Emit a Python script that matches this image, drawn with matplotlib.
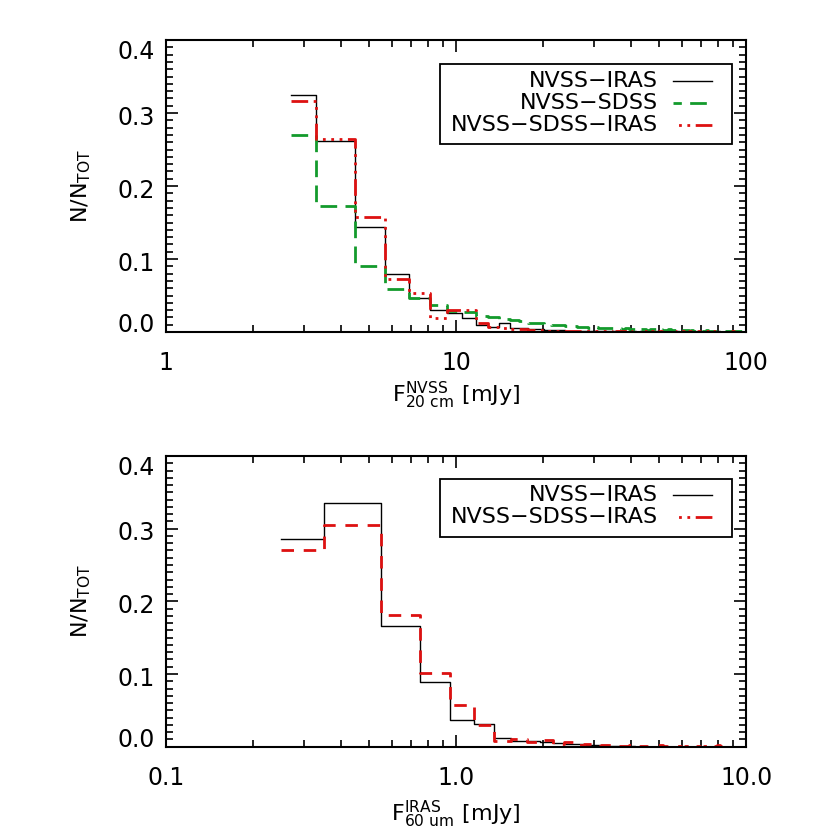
import numpy as np
import matplotlib
matplotlib.use("Agg")
import matplotlib.pyplot as plt
from matplotlib.ticker import FixedLocator, FixedFormatter, LogLocator, NullFormatter, MultipleLocator
from matplotlib.lines import Line2D
from matplotlib.patches import Rectangle
import matplotlib.transforms as mtransforms

plt.rcParams['font.family'] = ['DejaVu Sans']
plt.rcParams['mathtext.fontset'] = 'dejavusans'

# ---------------- data ----------------
# top panel: NVSS 20 cm flux histograms (bins of 1.2 mJy starting at 2.7 mJy)
radio_bin_start = 2.7
radio_bin_width = 1.2
radio_nvss_iras = [0.324, 0.261, 0.144, 0.080, 0.047, 0.030, 0.026, 0.019, 0.009, 0.007,
                   0.013, 0.005, 0.005, 0.004, 0.004, 0.003, 0.003, 0.003, 0.002,
                   0.002, 0.002, 0.001, 0.002, 0.001, 0.001, 0.001, 0.002, 0.001, 0.001,
                   0.001, 0.000, 0.001, 0.001, 0.000, 0.001, 0.000, 0.001, 0.000, 0.000,
                   0.001, 0.000, 0.000, 0.001, 0.000, 0.000, 0.000, 0.001, 0.000, 0.000,
                   0.000, 0.000, 0.001, 0.000, 0.000, 0.000, 0.000, 0.000, 0.001, 0.000,
                   0.000, 0.000, 0.000, 0.000, 0.000, 0.000, 0.001, 0.000, 0.000, 0.000,
                   0.000, 0.000, 0.000, 0.000, 0.000, 0.000, 0.000, 0.000, 0.000, 0.000,
                   0.000, 0.000, 0.000]
radio_nvss_sdss = [0.270, 0.172, 0.091, 0.059, 0.047, 0.037, 0.029, 0.027, 0.022, 0.020,
                   0.018, 0.016, 0.015, 0.013, 0.012, 0.011, 0.010, 0.009, 0.008,
                   0.008, 0.007, 0.007, 0.006, 0.007, 0.006, 0.005, 0.006, 0.005, 0.005, 0.004,
                   0.005, 0.004, 0.004, 0.005, 0.004, 0.004, 0.003, 0.004, 0.004, 0.003,
                   0.004, 0.003, 0.003, 0.004, 0.003, 0.003, 0.003, 0.002, 0.003, 0.003,
                   0.003, 0.002, 0.003, 0.002, 0.002, 0.003, 0.002, 0.002, 0.002, 0.003,
                   0.002, 0.002, 0.002, 0.001, 0.002, 0.002, 0.002, 0.001, 0.002, 0.002,
                   0.001, 0.002, 0.001, 0.002, 0.001, 0.001, 0.002, 0.001, 0.001, 0.002,
                   0.001, 0.002]
radio_nvss_sdss_iras = [0.316, 0.265, 0.157, 0.072, 0.053, 0.019, 0.030, 0.030, 0.012, 0.007,
                        0.005, 0.004, 0.004, 0.003, 0.003, 0.002, 0.002, 0.002, 0.001,
                        0.001, 0.002, 0.001, 0.001, 0.002, 0.001, 0.001, 0.001, 0.000, 0.001,
                        0.001, 0.001, 0.000, 0.001, 0.000, 0.001, 0.001, 0.000, 0.001, 0.000,
                        0.000, 0.001, 0.000, 0.001, 0.000, 0.000, 0.001, 0.000, 0.000, 0.001,
                        0.000, 0.000, 0.001, 0.000, 0.000, 0.000, 0.001, 0.000, 0.000, 0.000,
                        0.001, 0.000, 0.000, 0.000, 0.001, 0.000, 0.000, 0.000, 0.000, 0.001,
                        0.000, 0.000, 0.000, 0.000, 0.001, 0.000, 0.000, 0.000, 0.000, 0.000,
                        0.001, 0.000, 0.000]

# bottom panel: IRAS 60 um flux histograms (bins of 0.2 starting at 0.25)
ir_bin_start = 0.25
ir_bin_width = 0.2
ir_nvss_iras = [0.286, 0.335, 0.166, 0.089, 0.037, 0.031, 0.012, 0.008, 0.008, 0.007,
                0.005, 0.004, 0.003, 0.002, 0.002, 0.002, 0.001, 0.001, 0.001, 0.001,
                0.000, 0.001, 0.000, 0.000, 0.001, 0.000, 0.000, 0.000, 0.000, 0.000,
                0.000, 0.000, 0.000, 0.000, 0.000, 0.000, 0.000, 0.000, 0.000, 0.000,
                0.000]
ir_nvss_sdss_iras = [0.271, 0.305, 0.181, 0.102, 0.058, 0.030, 0.008, 0.011, 0.006, 0.009,
                     0.004, 0.006, 0.002, 0.003, 0.001, 0.002, 0.002, 0.001, 0.001, 0.002,
                     0.001, 0.001, 0.000, 0.001, 0.002, 0.001, 0.000, 0.001, 0.001, 0.000,
                     0.001, 0.001, 0.000, 0.001, 0.000, 0.001, 0.001, 0.000, 0.001, 0.002,
                     0.001]

y_ticks = [0.0, 0.1, 0.2, 0.3, 0.4]
y_ticklabels = ["0.0", "0.1", "0.2", "0.3", "0.4"]
top_xticks = [1, 10, 100]
top_xticklabels = ["1", "10", "100"]
bot_xticks = [0.1, 1.0, 10.0]
bot_xticklabels = ["0.1", "1.0", "10.0"]

labels_top = ["NVSS\u2212IRAS", "NVSS\u2212SDSS", "NVSS\u2212SDSS\u2212IRAS"]
labels_bot = ["NVSS\u2212IRAS", "NVSS\u2212SDSS\u2212IRAS"]

# ---------------- style ----------------
FS = 16
FS_TICK = 17
BLACK = "black"
GREEN = "#139a2c"
RED = "#dd1111"
LW_BLACK = 1.0
LW_COL = 2.0
DASH_GREEN = (0, (6, 3))
DDD_RED = (0, (6, 2, 1, 2, 1, 2, 1, 2))
DASH_RED = (0, (4.5, 3.5))

fig = plt.figure(figsize=(8.3, 8.3), dpi=100)
ax1 = fig.add_axes([0.2, 0.6, 0.699, 0.3518])
ax2 = fig.add_axes([0.2, 0.1004, 0.699, 0.3502])


def centers(start, width, vals):
    return start + width * np.arange(len(vals))


xr = centers(radio_bin_start, radio_bin_width, radio_nvss_iras)
xg = centers(radio_bin_start, radio_bin_width, radio_nvss_sdss)
xrd = centers(radio_bin_start, radio_bin_width, radio_nvss_sdss_iras)
ax1.step(xr, radio_nvss_iras, where='mid', color=BLACK, lw=LW_BLACK)
ax1.step(xg, radio_nvss_sdss, where='mid', color=GREEN, lw=LW_COL, linestyle=DASH_GREEN,
         dash_capstyle='butt')
ax1.step(xrd, radio_nvss_sdss_iras, where='mid', color=RED, lw=LW_COL, linestyle=DDD_RED,
         dash_capstyle='butt')

xb = centers(ir_bin_start, ir_bin_width, ir_nvss_iras)
xb2 = centers(ir_bin_start, ir_bin_width, ir_nvss_sdss_iras)
ax2.step(xb, ir_nvss_iras, where='mid', color=BLACK, lw=LW_BLACK)
ax2.step(xb2, ir_nvss_sdss_iras, where='mid', color=RED, lw=LW_COL, linestyle=DASH_RED,
         dash_capstyle='butt')


def style_axis(ax, xlim, xticks, xticklabels, xlabel, xlabel_y):
    ax.set_xscale('log')
    ax.set_xlim(*xlim)
    ax.set_ylim(0.0, 0.4)
    ax.xaxis.set_major_locator(FixedLocator(xticks))
    ax.xaxis.set_major_formatter(FixedFormatter(xticklabels))
    ax.xaxis.set_minor_locator(LogLocator(base=10, subs=np.arange(2, 10)))
    ax.xaxis.set_minor_formatter(NullFormatter())
    ax.yaxis.set_major_locator(FixedLocator(y_ticks))
    ax.yaxis.set_major_formatter(FixedFormatter(y_ticklabels))
    ax.yaxis.set_minor_locator(MultipleLocator(0.01))
    ax.tick_params(which='both', direction='in', top=True, right=True, width=1.2)
    ax.tick_params(which='major', length=8.5)
    ax.tick_params(which='minor', length=5)
    ax.tick_params(axis='x', which='major', pad=14, labelsize=FS_TICK)
    ax.tick_params(axis='y', which='major', pad=8, labelsize=FS_TICK)
    for s in ax.spines.values():
        s.set_linewidth(1.5)
    ax.set_xlabel(xlabel, fontsize=FS)
    ax.xaxis.set_label_coords(0.5, xlabel_y)
    ax.set_ylabel(r"N/N$_{\rm TOT}$", fontsize=FS)
    ax.yaxis.set_label_coords(-0.125, 0.5)


style_axis(ax1, (1, 100), top_xticks, top_xticklabels,
           r"${\rm F}^{\rm NVSS}_{\rm 20\ cm}\ \left[{\rm mJy}\right]$", -0.165)
style_axis(ax2, (0.1, 10), bot_xticks, bot_xticklabels,
           r"${\rm F}^{\rm IRAS}_{\rm 60\ um}\ \left[{\rm mJy}\right]$", -0.18)


def manual_legend(ax, box, rows, text_x, line_x0, line_x1):
    # box: (x0, y0, x1, y1) in axes fraction
    x0, y0, x1, y1 = box
    ax.add_patch(Rectangle((x0, y0), x1 - x0, y1 - y0, transform=ax.transAxes,
                           fill=True, facecolor='white', edgecolor='black', lw=1.3, zorder=5))
    for (label, y, color, lw, ls) in rows:
        ax.text(text_x, y, label, transform=ax.transAxes, ha='right', va='center',
                fontsize=FS, zorder=6)
        ax.add_line(Line2D([line_x0, line_x1], [y, y], transform=ax.transAxes, color=color,
                           lw=lw, linestyle=ls, dash_capstyle='butt', zorder=6))


manual_legend(ax1, (0.4724, 0.6428, 0.9759, 0.9178),
              [(labels_top[0], 0.858, BLACK, LW_BLACK, '-'),
               (labels_top[1], 0.783, GREEN, LW_COL, (3, (6, 3))),
               (labels_top[2], 0.709, RED, LW_COL, (9, (6, 2, 1, 2, 1, 2, 1, 2)))],
              0.848, 0.874, 0.941)
manual_legend(ax2, (0.4724, 0.7224, 0.9759, 0.921),
              [(labels_bot[0], 0.866, BLACK, LW_BLACK, '-'),
               (labels_bot[1], 0.791, RED, LW_COL, (9, (6, 2, 1, 2, 1, 2, 1, 2)))],
              0.848, 0.874, 0.941)

# IDL-like nudge of the end y tick labels
offsets = {0: 6.5, 4: -6.5}
for ax in (ax1, ax2):
    for i, tick in enumerate(ax.yaxis.get_major_ticks()):
        dy = offsets.get(i, -1.5)
        tick.label1.set_transform(tick.label1.get_transform() +
                                  mtransforms.ScaledTranslation(0, dy / 72, fig.dpi_scale_trans))

fig.savefig("out.png", dpi=100)
